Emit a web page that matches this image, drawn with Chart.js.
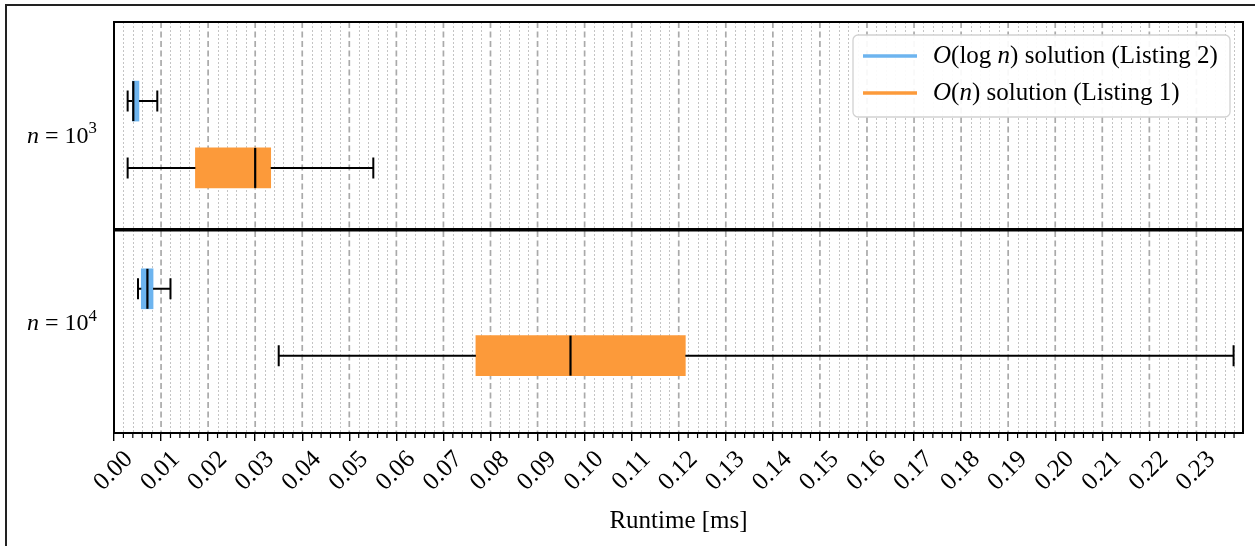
<!DOCTYPE html>
<html>
<head>
<meta charset="utf-8">
<script src="https://cdn.jsdelivr.net/npm/chart.js@4.4.1/dist/chart.umd.min.js"></script>
<style>
  body { margin: 0; background: #fff; }
  #wrap { position: relative; width: 1255px; height: 546px; }
  #frame { position: absolute; left: 5px; top: 4px; width: 1260px; height: 560px;
           border-left: 2px solid #222; border-top: 2px solid #222; pointer-events: none; }
</style>
</head>
<body>
<div id="wrap">
  <canvas id="boxChart" width="1255" height="546"></canvas>
  <div id="frame"></div>
</div>
<script>
// groups (rows) and series
const groupBase = ['10', '10'];
const groupExp = ['3', '4'];
const seriesNames = ['O(log n) solution (Listing 2)', 'O(n) solution (Listing 1)'];

// O(log n) box stats per group [ms]
const logMin = [0.0029, 0.0051];
const logQ1  = [0.0039, 0.0058];
const logMed = [0.0041, 0.0071];
const logQ3  = [0.0053, 0.0083];
const logMax = [0.0092, 0.0120];

// O(n) box stats per group [ms]
const linMin = [0.0029, 0.0350];
const linQ1  = [0.0173, 0.0769];
const linMed = [0.0300, 0.0970];
const linQ3  = [0.0333, 0.1214];
const linMax = [0.0551, 0.2379];

const xTickLabels = ['0.00','0.01','0.02','0.03','0.04','0.05','0.06','0.07','0.08','0.09','0.10','0.11',
  '0.12','0.13','0.14','0.15','0.16','0.17','0.18','0.19','0.20','0.21','0.22','0.23'];

// layout of rows on the (hidden) y scale: two panels stacked
const rowPos = [[0.744, 3.552], [1.744, 4.552]];
const panelSplit = 2.667;
const yMax = 5.27;

const colors = ['#6db4ef', '#fc9a3a'];
const stats = [
  { min: logMin, q1: logQ1, med: logMed, q3: logQ3, max: logMax },
  { min: linMin, q1: linQ1, med: linMed, q3: linQ3, max: linMax }
];
const SERIF = '"Liberation Serif", "DejaVu Serif", serif';

function richSegs(text) {
  return text.split(/(\bO\b|\bn\b)/).filter(s => s.length).map(s => ({ t: s, it: s === 'O' || s === 'n' }));
}
function drawSegs(ctx, segs, x, y, size, alignRight) {
  let total = 0;
  segs.forEach(s => {
    ctx.font = (s.it ? 'italic ' : '') + (s.sup ? size * 0.7 : size) + 'px ' + SERIF;
    s.w = ctx.measureText(s.t).width;
    total += s.w;
  });
  let cx = alignRight ? x - total : x;
  segs.forEach(s => {
    ctx.font = (s.it ? 'italic ' : '') + (s.sup ? size * 0.7 : size) + 'px ' + SERIF;
    ctx.fillText(s.t, cx, s.sup ? y - size * 0.38 : y);
    cx += s.w;
  });
}

const boxPlugin = {
  id: 'boxPlugin',
  beforeDatasetsDraw(chart) {
    const { ctx, chartArea: a, scales: { x } } = chart;
    ctx.save();
    // minor dotted grid every 0.002
    for (let k = 0; k * 0.002 <= x.max + 1e-9; k++) {
      if (k % 5 === 0) continue;
      const px = Math.round(x.getPixelForValue(k * 0.002)) + 0.5;
      ctx.strokeStyle = '#c4c4c4'; ctx.lineWidth = 1; ctx.setLineDash([2, 2]);
      ctx.beginPath(); ctx.moveTo(px, a.top); ctx.lineTo(px, a.bottom); ctx.stroke();
    }
    // major dashed grid
    xTickLabels.forEach(t => {
      const px = x.getPixelForValue(parseFloat(t));
      ctx.strokeStyle = '#aaaaaa'; ctx.lineWidth = 1.7; ctx.setLineDash([6, 3.5]);
      ctx.beginPath(); ctx.moveTo(px, a.top); ctx.lineTo(px, a.bottom); ctx.stroke();
    });
    ctx.restore();
  },
  afterDatasetsDraw(chart) {
    const { ctx, chartArea: a, scales: { x, y } } = chart;
    ctx.save();
    ctx.strokeStyle = '#000'; ctx.setLineDash([]);
    // whiskers, caps, medians
    stats.forEach((st, s) => {
      st.min.forEach((_, g) => {
        const py = y.getPixelForValue(rowPos[s][g]);
        const P = v => x.getPixelForValue(v);
        ctx.lineWidth = 2;
        ctx.beginPath();
        ctx.moveTo(P(st.min[g]), py); ctx.lineTo(P(st.q1[g]), py);
        ctx.moveTo(P(st.q3[g]), py); ctx.lineTo(P(st.max[g]), py);
        ctx.moveTo(P(st.min[g]), py - 10.5); ctx.lineTo(P(st.min[g]), py + 10.5);
        ctx.moveTo(P(st.max[g]), py - 10.5); ctx.lineTo(P(st.max[g]), py + 10.5);
        ctx.stroke();
        ctx.lineWidth = 2.2;
        ctx.beginPath();
        ctx.moveTo(P(st.med[g]), py - 20); ctx.lineTo(P(st.med[g]), py + 20);
        ctx.stroke();
      });
    });
    // minor tick marks
    ctx.lineWidth = 1.2;
    for (let k = 0; k * 0.002 <= x.max + 1e-9; k++) {
      if (k % 5 === 0) continue;
      const px = x.getPixelForValue(k * 0.002);
      ctx.beginPath(); ctx.moveTo(px, a.bottom); ctx.lineTo(px, a.bottom + 5); ctx.stroke();
    }
    // frame + panel separator
    ctx.lineWidth = 2;
    ctx.strokeRect(a.left, a.top, a.right - a.left, a.bottom - a.top);
    const sy = y.getPixelForValue(panelSplit);
    ctx.lineWidth = 3.5;
    ctx.beginPath(); ctx.moveTo(a.left, sy); ctx.lineTo(a.right, sy); ctx.stroke();

    // group labels
    ctx.fillStyle = '#000'; ctx.textBaseline = 'alphabetic';
    groupBase.forEach((b, g) => {
      const cy = y.getPixelForValue((rowPos[0][g] + rowPos[1][g]) / 2);
      drawSegs(ctx, [{ t: 'n', it: true }, { t: ' = ' }, { t: b }, { t: groupExp[g], sup: true }],
        a.left - 17, cy + 8, 24, true);
    });

    // legend
    const lx = a.right - 390, ly = a.top + 13, lw = 377, lh = 82;
    ctx.fillStyle = 'rgba(255,255,255,0.92)';
    ctx.strokeStyle = '#d2d2d2'; ctx.lineWidth = 1.3;
    ctx.beginPath(); ctx.roundRect(lx, ly, lw, lh, 5); ctx.fill(); ctx.stroke();
    seriesNames.forEach((name, s) => {
      const ry = ly + 21 + s * 37;
      ctx.strokeStyle = colors[s]; ctx.lineWidth = 3.5;
      ctx.beginPath(); ctx.moveTo(lx + 10, ry); ctx.lineTo(lx + 64, ry); ctx.stroke();
      ctx.fillStyle = '#000'; ctx.textBaseline = 'middle';
      drawSegs(ctx, richSegs(name), lx + 80, ry, 25, false);
    });
    ctx.restore();
  }
};

new Chart(document.getElementById('boxChart').getContext('2d'), {
  type: 'bar',
  data: {
    datasets: seriesNames.map((name, s) => ({
      label: name,
      data: groupBase.map((_, g) => ({ y: rowPos[s][g], x: [stats[s].q1[g], stats[s].q3[g]] })),
      backgroundColor: colors[s],
      borderWidth: 0,
      barThickness: 40,
      grouped: false
    }))
  },
  options: {
    indexAxis: 'y',
    responsive: false,
    animation: false,
    devicePixelRatio: 1,
    layout: { padding: { left: 114, right: 12, top: 22, bottom: 0 } },
    plugins: { legend: { display: false }, tooltip: { enabled: false } },
    scales: {
      x: {
        type: 'linear', min: 0, max: 0.2399, position: 'bottom',
        afterBuildTicks: s => { s.ticks = xTickLabels.map(t => ({ value: parseFloat(t) })); },
        afterFit: s => { s.height = 113; },
        ticks: {
          callback: (v, i) => xTickLabels[i],
          autoSkip: false, minRotation: 45, maxRotation: 45,
          font: { family: SERIF, size: 25 }, color: '#000',
          padding: 4, labelOffset: 15
        },
        grid: { display: true, drawOnChartArea: false, drawTicks: true, tickLength: 8, color: '#000', lineWidth: 1.4 },
        border: { display: false },
        title: { display: true, text: 'Runtime [ms]', color: '#000',
                 font: { family: SERIF, size: 25 }, padding: { top: 0, bottom: 10 } }
      },
      y: { type: 'linear', reverse: true, min: 0, max: yMax, display: false }
    }
  },
  plugins: [boxPlugin]
});
</script>
</body>
</html>
